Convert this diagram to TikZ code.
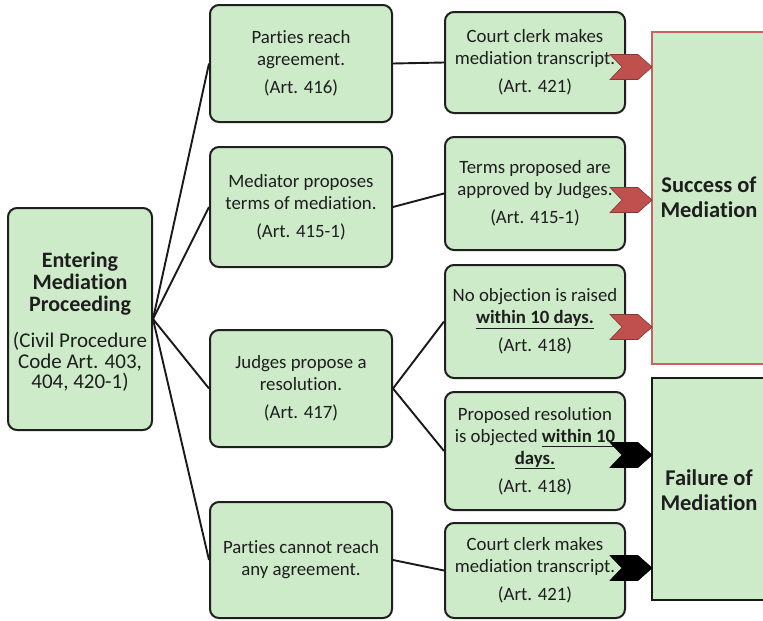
\documentclass[tikz,border=0pt]{standalone}
\usepackage{fontspec}
\setmainfont[Ligatures=CommonOff]{Carlito}
\definecolor{boxgreen}{RGB}{205,235,201}
\definecolor{chevred}{RGB}{192,80,77}
\definecolor{edgered}{RGB}{204,96,96}
\definecolor{inkc}{RGB}{30,30,30}
\newcommand{\ul}[1]{\underline{#1\vphantom{y}}}
\begin{document}
\begin{tikzpicture}[x=1pt,y=-1pt,
  box/.style={draw=black!88, line width=2pt, rounded corners=9pt, fill=boxgreen,
    align=center, inner sep=0pt, text=inkc, font=\fontsize{18.8}{22}\selectfont},
  midbox/.style={box, minimum width=182pt},
  rbox/.style={box, minimum width=180pt},
  conn/.style={draw=black!90, line width=1.9pt},
  bigbox/.style={line width=2pt, fill=boxgreen},
  bigtxt/.style={align=center, text=inkc, font=\bfseries\fontsize{22.5}{25}\selectfont},
  chev/.pic={\path[pic actions] (-42,-12.5) -- (-14,-12.5) -- (0,0) -- (-14,12.5) -- (-42,12.5) -- (-30,0) -- cycle;},
  redchev/.style={fill=chevred, draw=chevred!70!black, line width=0.6pt},
  blackchev/.style={fill=black, draw=black, line width=0.6pt}
]
\clip (0,0) rectangle (763,621);
\fill[white] (0,0) rectangle (763,621);

% outcome boxes
\path[bigbox, draw=edgered] (652,32) rectangle (790,364);
\node[bigtxt] (succ) at (709,197) {Success of\\Mediation};
\path[bigbox, draw=black!90] (652,378) rectangle (790,600);
\node[bigtxt] (fail) at (709,490) {Failure of\\Mediation};

% root
\node[box, minimum width=144pt, minimum height=222pt] (root) at (80,319) {};
\node[align=center, text=inkc, font=\bfseries\fontsize{22}{22}\selectfont] (roottitle) at (80,284)
  {Entering\\Mediation\\Proceeding};
\node[align=center, text=inkc, font=\fontsize{21}{20.5}\selectfont] (rootsub) at (80,362)
  {(Civil Procedure\\Code Art. 403,\\404, 420-1)};

% middle column
\node[midbox, minimum height=117pt] (m1) at (301,63.5) {Parties reach\\agreement.\\[6pt](Art. 416)};
\node[midbox, minimum height=120pt] (m2) at (301,207) {Mediator proposes\\terms of mediation.\\[6pt](Art. 415-1)};
\node[midbox, minimum height=117pt] (m3) at (301,388.5) {Judges propose a\\resolution.\\[6pt](Art. 417)};
\node[midbox, minimum height=116pt] (m4) at (301,560) {Parties cannot reach\\any agreement.};

% right column
\node[rbox, minimum height=101pt] (r1) at (535,62.5) {Court clerk makes\\mediation transcript.\\[6pt](Art. 421)};
\node[rbox, minimum height=113pt] (r2) at (535,193.5) {Terms proposed are\\approved by Judges.\\[6pt](Art. 415-1)};
\node[rbox, minimum height=113pt] (r3) at (535,321.5) {No objection is raised\\\textbf{\ul{within 10 days.}}\\[6pt](Art. 418)};
\node[rbox, minimum height=118pt] (r4) at (535,451) {Proposed resolution\\is objected \textbf{\ul{within 10}}\\\textbf{\ul{days.}}\\[6pt](Art. 418)};
\node[rbox, minimum height=95pt] (r5) at (535,570.5) {Court clerk makes\\mediation transcript.\\[6pt](Art. 421)};

% connectors
\draw[conn] (root.east) -- (m1.west);
\draw[conn] (root.east) -- (m2.west);
\draw[conn] (root.east) -- (m3.west);
\draw[conn] (root.east) -- (m4.west);
\draw[conn] (m1.east) -- (r1.west);
\draw[conn] (m2.east) -- (r2.west);
\draw[conn] (m3.east) -- (r3.west);
\draw[conn] (m3.east) -- (r4.west);
\draw[conn] (m4.east) -- (r5.west);

% chevrons
\pic[redchev] at (652,67) {chev};
\pic[redchev] at (652,200) {chev};
\pic[redchev] at (652,327) {chev};
\pic[blackchev] at (652,455) {chev};
\pic[blackchev] at (652,568) {chev};
\end{tikzpicture}
\end{document}
